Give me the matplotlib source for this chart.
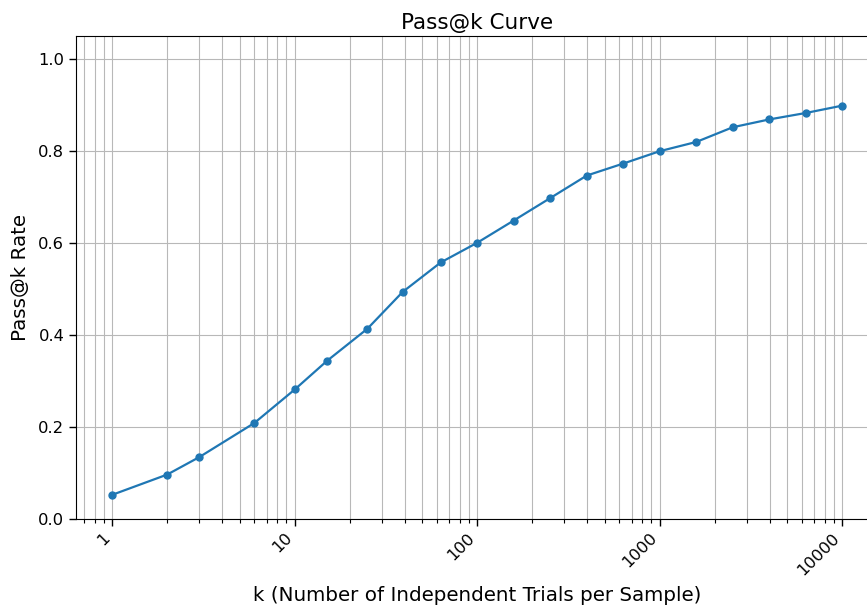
import matplotlib
matplotlib.use('Agg')
import matplotlib.pyplot as plt
from matplotlib.ticker import LogLocator, FixedLocator, FixedFormatter

# k values (unique ints of logspace 1..10^4) and pass@k
k_values = [1, 2, 3, 6, 10, 15, 25, 39, 63, 100, 158, 251, 398, 630,
            1000, 1584, 2511, 3981, 6309, 10000]
pass_rates = [0.052, 0.096, 0.134, 0.208, 0.281, 0.343, 0.413, 0.493, 0.557, 0.600,
              0.648, 0.697, 0.746, 0.772, 0.799, 0.819, 0.851, 0.868, 0.882, 0.898]
tick_vals = [1, 10, 100, 1000, 10000]
tick_labels = ['1', '10', '100', '1000', '10000']

W, H = 867, 610
fig = plt.figure(figsize=(W / 100, H / 100), dpi=100)
# axes runs off the right edge, like the reference crop
ax = fig.add_axes([75.8 / W, (H - 518.7) / H, 803 / W, (518.7 - 35.7) / H])

ax.plot(k_values, pass_rates, marker='o', color='#1f77b4', lw=1.6, markersize=5)
ax.set_xscale('log')
ax.set_xlim(10 ** -0.2, 10 ** 4.2)
ax.set_ylim(0, 1.05)

ax.xaxis.set_major_locator(FixedLocator(tick_vals))
ax.xaxis.set_major_formatter(FixedFormatter(tick_labels))
ax.xaxis.set_minor_locator(LogLocator(base=10, subs=range(2, 10), numticks=20))
ax.set_yticks([0.0, 0.2, 0.4, 0.6, 0.8, 1.0])
ax.set_yticklabels(['0.0', '0.2', '0.4', '0.6', '0.8', '1.0'])

for lab in ax.get_xticklabels():
    lab.set_rotation(45)
    lab.set_ha('right')
ax.tick_params(axis='both', which='major', labelsize=11.8, length=4.8, width=1.0)
ax.tick_params(axis='x', which='minor', length=2.8, width=0.8)

ax.grid(True, which='both', color='#b8b8b8', lw=0.8)
ax.set_axisbelow(True)

ax.set_title('Pass@k Curve', fontsize=15.5, pad=5)
ax.set_xlabel('k (Number of Independent Trials per Sample)', fontsize=14.3, labelpad=6)
ax.set_ylabel('Pass@k Rate', fontsize=14.3, labelpad=6)

fig.savefig('out.png', dpi=100)
